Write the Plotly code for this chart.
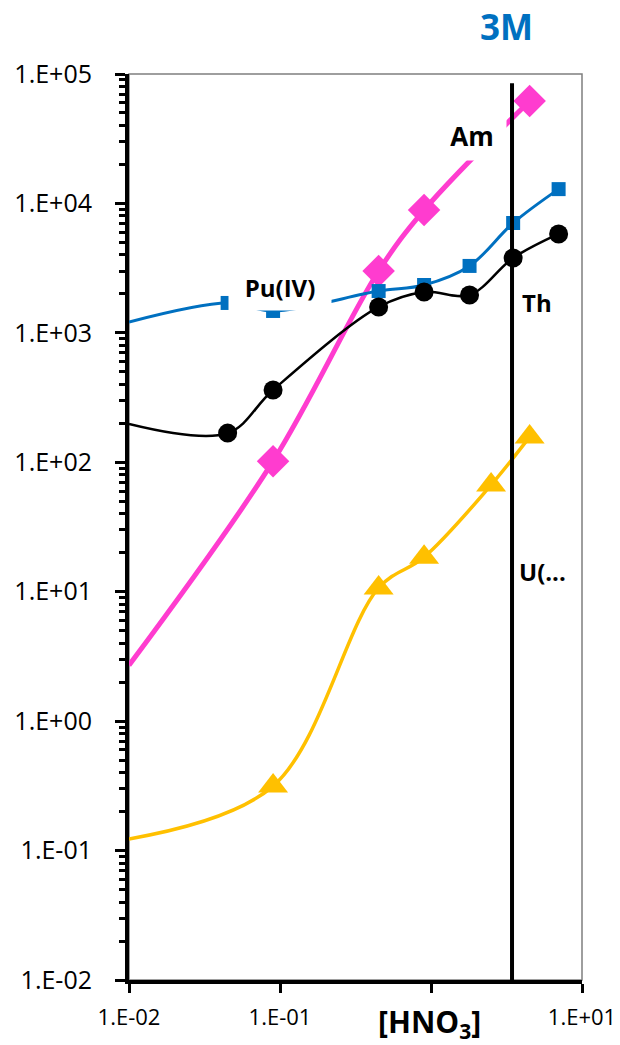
import plotly.graph_objects as go

# ---- data ----
x_left = 0.01
am_x = [0.09, 0.45, 0.90, 4.5]
am_y = [102, 3006, 8890, 61900]
am_y_left = 2.7

pu_x = [0.045, 0.09, 0.45, 0.90, 1.8, 3.5, 7.0]
pu_y = [1702, 1476, 2104, 2344, 3289, 7060, 12900]
pu_y_left = 1214

th_x = [0.045, 0.09, 0.45, 0.90, 1.8, 3.5, 7.0]
th_y = [168, 362, 1585, 2070, 1964, 3787, 5808]
th_y_left = 198

u_x = [0.09, 0.45, 0.90, 2.5, 4.5]
u_y = [0.315, 10.7, 18.5, 66.8, 157]
u_y_left = 0.123

vline_x = [3.44, 3.44]
vline_y = [0.01, 85000]

x_tickvals = [0.01, 0.1, 10]
x_ticktext = ["1.E-02", "1.E-01", "1.E+01"]
x_unlabeled_ticks = [1]
y_tickvals = [0.01, 0.1, 1, 10, 100, 1000, 10000, 100000]
y_ticktext = ["1.E-02", "1.E-01", "1.E+00", "1.E+01", "1.E+02", "1.E+03", "1.E+04", "1.E+05"]

FONT = "Open Sans"

fig = go.Figure()

series = [
    ("Am", am_x, am_y, am_y_left, "#FF3CCF", 5, "diamond", 25),
    ("Pu(IV)", pu_x, pu_y, pu_y_left, "#0070C0", 3, "square", 14),
    ("Th", th_x, th_y, th_y_left, "#000000", 2.5, "circle", 19),
    ("U", u_x, u_y, u_y_left, "#FFC000", 3.5, "triangle-up", 26),
]

for name, xs, ys, y0, col, lw, sym, ms in series:
    fig.add_trace(go.Scatter(
        x=[x_left] + xs, y=[y0] + ys, mode="lines",
        line=dict(color=col, width=lw, shape="spline", smoothing=1),
        showlegend=False, hoverinfo="skip", cliponaxis=True))
    fig.add_trace(go.Scatter(
        x=xs, y=ys, mode="markers", name=name,
        marker=dict(symbol=sym, size=ms, color=col, line=dict(width=0)),
        showlegend=False, cliponaxis=False))

fig.add_trace(go.Scatter(
    x=vline_x, y=vline_y, mode="lines",
    line=dict(color="black", width=4), showlegend=False, hoverinfo="skip"))

# minor tick positions on the log y axis
minor_vals = []
for e in range(-2, 5):
    for k in range(2, 10):
        minor_vals.append(k * 10.0 ** e)

fig.update_xaxes(
    type="log", range=[-2, 1], automargin=False,
    tickmode="array", tickvals=x_tickvals, ticktext=x_ticktext,
    ticks="outside", ticklen=9, tickwidth=3, tickcolor="black",
    minor=dict(tickmode="array", tickvals=x_unlabeled_ticks, ticks="outside",
               ticklen=9, tickwidth=3, tickcolor="black", showgrid=False),
    showline=True, linewidth=4, linecolor="black",
    showgrid=False, zeroline=False,
    tickfont=dict(family=FONT, size=22, color="black"),
    ticklabelstandoff=6,
)
fig.update_yaxes(
    type="log", range=[-2, 5], automargin=False,
    tickmode="array", tickvals=y_tickvals, ticktext=y_ticktext,
    ticks="outside", ticklen=10, tickwidth=3, tickcolor="black",
    minor=dict(tickmode="array", tickvals=minor_vals, ticks="outside",
               ticklen=6, tickwidth=3, tickcolor="black", showgrid=False),
    showline=True, linewidth=4, linecolor="black",
    showgrid=False, zeroline=False,
    tickfont=dict(family=FONT, size=25, color="black"),
    ticklabelstandoff=18,
)

# thin top/right frame
fig.add_shape(type="rect", xref="paper", yref="paper", x0=0, y0=0, x1=1, y1=1,
              line=dict(color="#7F7F7F", width=1.5), layer="below")

ann_font = dict(family=FONT, size=24, color="black")
fig.add_annotation(x=0.272, y=4.521, xref="x", yref="y", text="<b>Am</b>",
                   showarrow=False, font=dict(family=FONT, size=26, color="black"),
                   bgcolor="white", width=66, height=46)
fig.add_annotation(x=-1.0, y=3.354, xref="x", yref="y", text="<b>Pu(IV)</b>",
                   showarrow=False, font=ann_font,
                   bgcolor="white", width=100, height=44)
fig.add_annotation(x=0.59, y=3.231, xref="x", yref="y", text="<b>Th</b>",
                   showarrow=False, font=ann_font, xanchor="left")
fig.add_annotation(x=0.57, y=1.16, xref="x", yref="y", text="<b>U(...</b>",
                   showarrow=False, font=ann_font, xanchor="left")
fig.add_annotation(x=0.497, y=1.052, xref="x", yref="paper", text="<b>3M</b>",
                   showarrow=False, yanchor="middle",
                   font=dict(family=FONT, size=35, color="#0070C0"))
fig.add_annotation(x=-0.007, y=-0.047, xref="x", yref="paper",
                   text="<b>[HNO<sub>3</sub>]</b>", yanchor="middle",
                   showarrow=False, font=dict(family=FONT, size=30, color="black"))

fig.update_layout(
    width=620, height=1045,
    margin=dict(l=129, r=38, t=74, b=65),
    paper_bgcolor="white", plot_bgcolor="white",
    showlegend=False,
)

fig.write_html("out.html")
